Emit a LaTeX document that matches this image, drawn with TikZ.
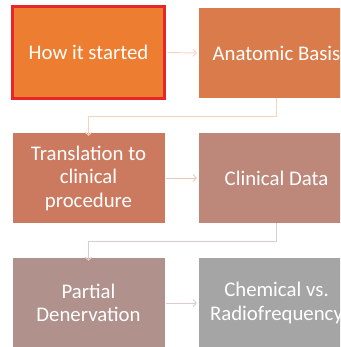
\documentclass[tikz,border=0pt]{standalone}
\usepackage{fontspec}
\setmainfont{Carlito}
\usetikzlibrary{arrows.meta}

\definecolor{stepA}{HTML}{ED7D31}
\definecolor{stepB}{HTML}{D97B4B}
\definecolor{stepC}{HTML}{CC7A5F}
\definecolor{stepD}{HTML}{BD877A}
\definecolor{stepE}{HTML}{B0918B}
\definecolor{stepF}{HTML}{A5A5A5}
\definecolor{hilite}{HTML}{E8262A}
\definecolor{linkA}{HTML}{F6D3BF}
\definecolor{linkB}{HTML}{EBC7BC}
\definecolor{linkC}{HTML}{DDCCC9}

\tikzset{
  stepbox/.style={rectangle, draw=none, minimum width=152pt, minimum height=90pt,
    inner sep=0pt, text=white, align=center,
    font=\fontsize{20.8}{23.5}\selectfont},
  flowlink/.style={line width=0.9pt, -{Straight Barb[length=3pt,width=7pt]}},
}

\begin{document}
\begin{tikzpicture}[x=1pt,y=-1pt]
  \useasboundingbox (0,0) rectangle (340,347);
  \clip (0,0) rectangle (340,347);

  % left column
  \node[stepbox, fill=stepA, draw=hilite, line width=3pt,
        minimum width=152pt, minimum height=92pt] (start) at (88.5,52.5) {How it started};
  \node[stepbox, fill=stepC] (trans) at (88.5,178) {Translation to\\clinical\\procedure};
  \node[stepbox, fill=stepE] (partial) at (88.5,303) {Partial\\Denervation};

  % right column
  \node[stepbox, fill=stepB, minimum width=155pt] (anat) at (276.5,53) {Anatomic Basis};
  \node[stepbox, fill=stepD, minimum width=155pt] (clin) at (276.5,178) {Clinical Data};
  \node[stepbox, fill=stepF, minimum width=155pt] (chem) at (276.5,303) {Chemical vs.\\Radiofrequency};

  % horizontal links
  \draw[flowlink, draw=linkA] (start.east) ++(1.5,0) -- ([xshift=-2pt]anat.west);
  \draw[flowlink, draw=linkB] (trans.east) ++(1,0) -- ([xshift=-2pt]clin.west);
  \draw[flowlink, draw=linkC] (partial.east) ++(1,0) -- ([xshift=-2pt]chem.west);

  % elbow links between rows
  \draw[flowlink, draw=linkA] (anat.south) -- ++(0,18) -| ([yshift=-3pt]trans.north);
  \draw[flowlink, draw=linkC] (clin.south) -- ++(0,18) -| ([yshift=-3pt]partial.north);
\end{tikzpicture}
\end{document}
